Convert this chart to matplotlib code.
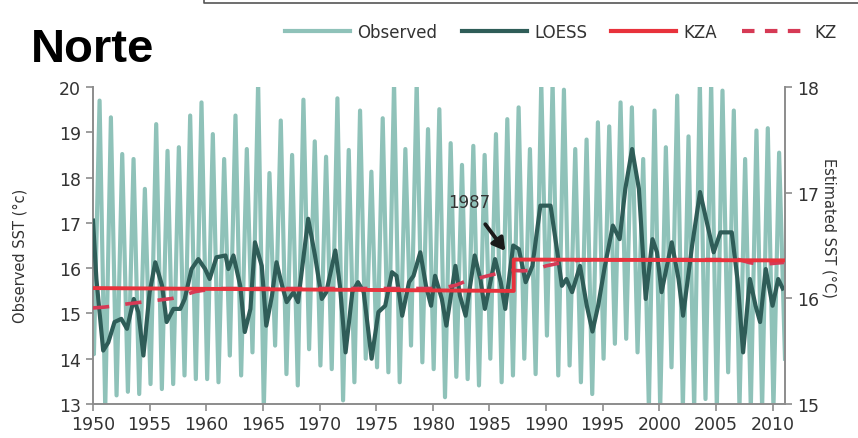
import numpy as np
import matplotlib
matplotlib.use("Agg")
import matplotlib.pyplot as plt
from matplotlib.lines import Line2D

# ---------------- data ----------------
years = np.arange(1950, 2011)  # 1950..2010

# Observed SST: yearly summer peaks and winter troughs (deg C)
obs_peaks = [19.70, 19.33, 18.52, 18.41, 17.75, 19.18, 18.59, 18.67, 19.37, 19.66,
             18.96, 18.41, 19.37, 18.63, 20.10, 18.10, 19.26, 18.50, 19.72, 18.80,
             18.46, 19.75, 18.61, 19.48, 18.13, 19.31, 20.10, 18.63, 20.10, 19.07,
             19.51, 18.76, 18.28, 18.70, 18.50, 18.96, 19.29, 19.55, 18.63, 20.10,
             20.10, 19.94, 18.63, 18.84, 19.22, 19.13, 19.66, 19.55, 18.41, 19.48,
             18.67, 19.81, 18.91, 20.10, 20.10, 19.92, 19.48, 18.41, 19.04, 19.09,
             18.55]
obs_troughs = [14.10, 12.90, 13.19, 13.27, 13.22, 13.44, 13.33, 13.44, 13.63, 13.55,
               13.55, 13.48, 14.07, 13.63, 14.14, 12.90, 14.29, 13.66, 13.41, 14.21,
               13.85, 13.77, 13.08, 13.48, 14.00, 13.81, 13.70, 13.48, 14.29, 13.92,
               13.77, 13.15, 13.60, 13.55, 13.41, 14.00, 13.48, 13.63, 14.00, 13.66,
               14.51, 13.63, 13.85, 13.48, 13.22, 14.00, 14.33, 14.44, 14.14, 12.90,
               12.90, 13.81, 12.90, 12.90, 13.11, 12.90, 13.70, 12.90, 12.90, 12.90,
               12.90]

# LOESS smooth (observed-SST axis)
loess_t = [1950.0, 1950.3, 1950.9, 1951.35, 1951.9, 1952.5, 1953.0, 1953.6, 1954.0, 1954.45,
           1955.0, 1955.5, 1956.1, 1956.5, 1957.1, 1957.7, 1958.1, 1958.7, 1959.3, 1959.9,
           1960.3, 1960.9, 1961.7, 1961.95, 1962.4, 1963.0, 1963.4, 1963.9, 1964.3, 1964.9,
           1965.3, 1965.8, 1966.2, 1966.7, 1967.1, 1967.7, 1968.1, 1969.0, 1969.6, 1970.2,
           1970.6, 1971.4, 1971.8, 1972.3, 1972.9, 1973.4, 1973.9, 1974.6, 1975.2, 1975.8,
           1976.4, 1976.8, 1977.3, 1977.9, 1978.3, 1978.9, 1979.4, 1979.85, 1980.2, 1980.8,
           1981.2, 1982.0, 1982.4, 1982.9, 1983.7, 1984.2, 1984.6, 1985.5, 1986.0, 1986.4,
           1987.1, 1987.6, 1988.2, 1988.8, 1989.5, 1990.4, 1991.0, 1991.4, 1991.8, 1992.3,
           1993.0, 1993.6, 1994.1, 1994.6, 1995.2, 1995.9, 1996.5, 1997.0, 1997.6, 1998.2,
           1998.8, 1999.4, 1999.8, 2000.2, 2001.1, 2001.7, 2002.1, 2002.9, 2003.6, 2004.2,
           2004.8, 2005.4, 2006.4, 2006.9, 2007.4, 2008.0, 2008.5, 2008.9, 2009.4, 2010.0,
           2010.5, 2010.9]
loess_v = [17.05, 15.76, 14.18, 14.36, 14.81, 14.88, 14.66, 15.32, 15.03, 14.07,
           15.47, 16.13, 15.61, 14.81, 15.10, 15.10, 15.32, 15.98, 16.20, 15.98,
           15.76, 16.24, 16.28, 15.98, 16.28, 15.61, 14.59, 15.10, 16.57, 16.05,
           14.73, 15.39, 16.13, 15.61, 15.25, 15.47, 15.25, 17.09, 16.28, 15.32,
           15.47, 16.39, 15.61, 14.14, 15.47, 15.69, 15.47, 14.00, 15.03, 15.17,
           15.91, 15.83, 14.95, 15.69, 15.83, 16.35, 15.61, 15.17, 15.83, 15.32,
           14.73, 16.05, 15.39, 14.95, 16.28, 15.76, 15.10, 16.20, 15.69, 15.10,
           16.50, 16.42, 15.69, 16.05, 17.38, 17.38, 16.35, 15.61, 15.76, 15.47,
           16.05, 15.17, 14.60, 15.17, 16.05, 16.94, 16.64, 17.75, 18.63, 17.75,
           15.32, 16.64, 16.35, 15.47, 16.57, 15.76, 14.95, 16.50, 17.68, 17.01,
           16.35, 16.79, 16.79, 15.76, 14.14, 15.76, 15.17, 14.81, 15.98, 15.17,
           15.76, 15.55]

# KZA and KZ (estimated-SST axis)
kza_t = [1950.0, 1987.15, 1987.15, 2011.0]
kza_v = [16.097, 16.070, 16.367, 16.359]
kz_t = [1950, 1951, 1952, 1953, 1954, 1955, 1956, 1957, 1958, 1959, 1960, 1961, 1970,
        1980, 1981, 1982, 1983, 1984, 1985, 1986, 1987, 1988, 1989, 1990, 1991, 1992,
        1993, 2000, 2007, 2008, 2009, 2010, 2011]
kz_v = [15.909, 15.917, 15.930, 15.947, 15.960, 15.973, 15.986, 15.999, 16.029, 16.063,
        16.080, 16.093, 16.093, 16.093, 16.101, 16.123, 16.166, 16.190, 16.217, 16.243,
        16.264, 16.260, 16.270, 16.307, 16.329, 16.346, 16.363, 16.367, 16.367, 16.337,
        16.320, 16.330, 16.340]

left_ticks = [13, 14, 15, 16, 17, 18, 19, 20]
right_ticks = [15, 16, 17, 18]
x_ticks = list(range(1950, 2011, 5))

# ---------------- figure ----------------
W, H = 858, 439
fig = plt.figure(figsize=(W / 100, H / 100), dpi=100)
fig.patch.set_facecolor("white")

L, R, T, B = 93, 785, 88, 405
ax = fig.add_axes([L / W, 1 - B / H, (R - L) / W, (B - T) / H])
ax2 = ax.twinx()

# observed zig-zag (trough early in year, peak mid-year)
obs_t = np.empty(2 * len(years))
obs_v = np.empty(2 * len(years))
obs_t[0::2] = years + 0.08
obs_t[1::2] = years + 0.58
obs_v[0::2] = obs_troughs
obs_v[1::2] = obs_peaks
obs_t = np.concatenate([[1950.0], obs_t, [2011.1]])
obs_v = np.concatenate([[16.2], obs_v, [14.0]])

c_obs = "#8fc2b9"
c_loess = "#2f5d58"
c_kza = "#e8323c"
c_kz = "#d63a55"

ax.plot(obs_t, obs_v, color=c_obs, lw=3.0, zorder=1, solid_joinstyle="round")
ax.plot(loess_t, loess_v, color=c_loess, lw=3.0, zorder=3, solid_joinstyle="round")
ax2.plot(kz_t, kz_v, color=c_kz, lw=2.6, dashes=(4.5, 4.5), zorder=2)
ax2.plot(kza_t, kza_v, color=c_kza, lw=2.8, zorder=4)

ax.set_xlim(1950, 2011.1)
ax.set_ylim(13, 20)
ax2.set_ylim(15, 18)
ax.set_xticks(x_ticks)
ax.set_yticks(left_ticks)
ax2.set_yticks(right_ticks)

spine_c = "#8c8c8c"
for a in (ax, ax2):
    a.spines["top"].set_visible(False)
    for s in ("left", "right", "bottom"):
        a.spines[s].set_color(spine_c)
        a.spines[s].set_linewidth(1.4)
    a.tick_params(colors=spine_c, labelcolor="#333333", labelsize=12.5,
                  length=5, width=1.2, direction="out")
ax.spines["right"].set_visible(False)
ax2.spines["left"].set_visible(False)
ax2.spines["bottom"].set_visible(False)
ax.tick_params(axis="x", pad=3)

ax.set_ylabel("Observed SST (°c)", fontsize=10.5, color="#333333")
ax.yaxis.set_label_coords(-0.094, 0.47)
ax2.set_ylabel("Estimated SST (°C)", fontsize=10.5, color="#333333", rotation=-90)
ax2.yaxis.set_label_coords(1.075, 0.56)

# annotation 1987
ax.annotate("1987", xy=(1986.4, 16.38), xytext=(1983.2, 17.45),
            fontsize=12, color="#333333", ha="center", va="center",
            arrowprops=dict(arrowstyle="-|>,head_length=0.6,head_width=0.35",
                            color="#1a1a1a", lw=2.8, shrinkA=9, shrinkB=0),
            zorder=6)

# title
fig.text(31 / W, 1 - 62 / H, "Norte", fontsize=34, fontweight="bold",
         family="Liberation Sans", color="black", va="baseline", ha="left")

# frame fragment at top
fig.add_artist(Line2D([204 / W, 204 / W, 1.0], [1.0, 1 - 4 / H, 1 - 4 / H],
                      color="#555555", lw=1.2, transform=fig.transFigure))

# legend
handles = [Line2D([], [], color=c_obs, lw=3),
           Line2D([], [], color=c_loess, lw=3),
           Line2D([], [], color=c_kza, lw=3),
           Line2D([], [], color=c_kz, lw=3, dashes=(3, 2.5))]
labels = ["Observed", "LOESS", "KZA", "KZ"]
leg = fig.legend(handles, labels, loc="center left",
                 bbox_to_anchor=(285 / W, 1 - 33 / H), ncol=4, frameon=False,
                 fontsize=12, handlelength=3.9, handletextpad=0.45,
                 columnspacing=1.45, borderaxespad=0, borderpad=0)
for t in leg.get_texts():
    t.set_color("#333333")

fig.savefig("out.png", dpi=100, facecolor="white")
